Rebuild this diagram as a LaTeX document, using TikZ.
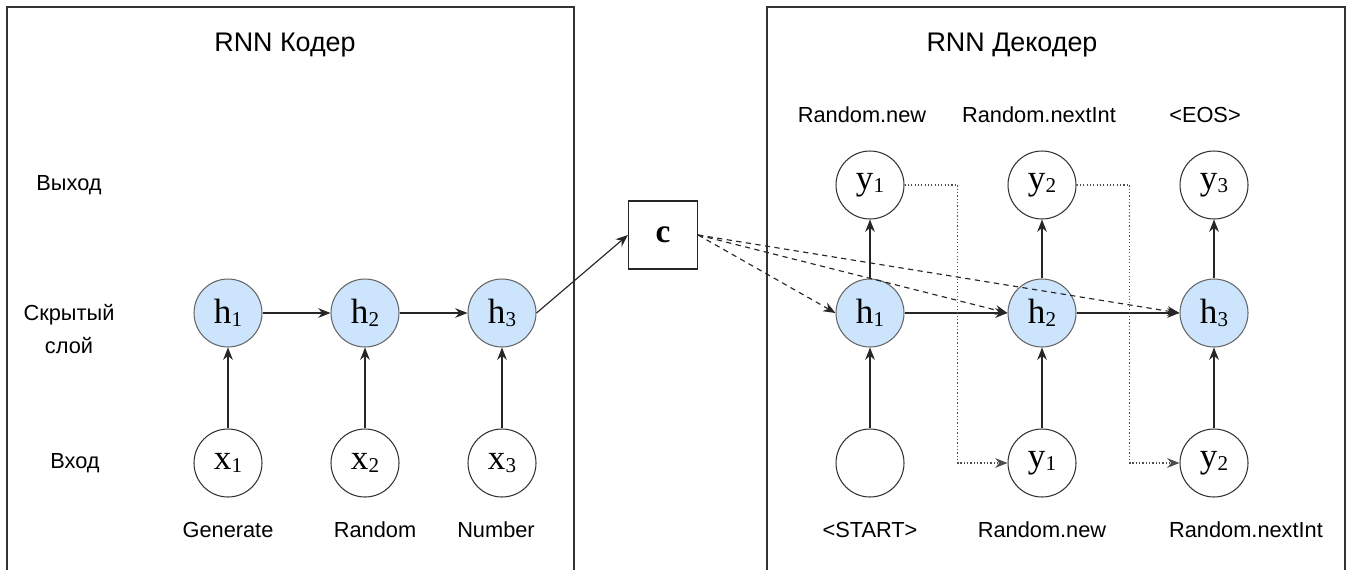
\documentclass[tikz,border=0pt]{standalone}
\usepackage{fontspec}
\setmainfont{Liberation Sans}
\newfontfamily\cellfont{Liberation Serif}
\usetikzlibrary{arrows.meta,positioning}

\definecolor{hiddenblue}{RGB}{204,228,252}
\newcommand{\lowidx}[1]{\raisebox{-2pt}{\fontsize{12}{12}\selectfont #1}}

\tikzset{
    cell/.style={circle, draw=black!80, fill=white, line width=0.6pt,
        minimum size=1.36cm, inner sep=0pt,
        font=\cellfont\fontsize{20}{20}\selectfont},
    hidden/.style={cell, draw=black!60, fill=hiddenblue},
    ctxbox/.style={rectangle, draw=black!85, line width=0.7pt,
        minimum width=1.38cm, minimum height=1.36cm, inner sep=0pt,
        font=\cellfont\fontsize{19}{19}\selectfont\bfseries},
    frame/.style={draw=black!80, line width=0.9pt},
    lbl/.style={font=\fontsize{12.4}{18.8}\selectfont, align=center},
    ttl/.style={font=\fontsize{15.3}{18}\selectfont},
    flow/.style={-{Stealth[length=7pt,width=5.5pt]}, draw=black!85, line width=0.65pt},
    ctxline/.style={flow, dash pattern=on 3pt off 2.5pt},
    feed/.style={flow, draw=black!70, dash pattern=on 0.7pt off 1.2pt}
}

\begin{document}
\begin{tikzpicture}[x=0.02cm, y=-0.02cm]
    \useasboundingbox (0,0) rectangle (1351,569);

    % frames
    \draw[frame] (7,590) |- (574,7) -- (574,590);
    \draw[frame] (767,590) |- (1345,7) -- (1345,590);
    \node[ttl] (enctitle) at (285,45) {RNN Кодер};
    \node[ttl] (dectitle) at (1012,45) {RNN Декодер};

    % row labels
    \node[lbl] (rowout) at (69,185) {Выход};
    \node[lbl, anchor=north] (rowhid) at (69,298) {Скрытый\\слой};
    \node[lbl] (rowin) at (75,463) {Вход};

    % encoder
    \foreach \i/\x/\lx/\word in {1/228/228/Generate, 2/365/375/Random, 3/502/496/Number} {
            \node[hidden] (eh\i) at (\x,313) {h\lowidx{\i}};
            \node[cell] (ex\i) at (\x,463) {x\lowidx{\i}};
            \node[lbl] (ew\i) at (\lx,530) {\word};
            \draw[flow] (ex\i) -- (eh\i);
        }
    \draw[flow] (eh1) -- (eh2);
    \draw[flow] (eh2) -- (eh3);

    % context
    \node[ctxbox] (ctx) at (663,235) {c};
    \draw[flow] (eh3.east) -- (ctx.west);

    % decoder
    \foreach \i/\x/\tx/\word in {1/870/862/Random.new, 2/1042/1039/Random.nextInt, 3/1214/1205/<EOS>} {
            \node[hidden] (dh\i) at (\x,313) {h\lowidx{\i}};
            \node[cell] (dy\i) at (\x,185) {y\lowidx{\i}};
            \node[lbl] (dt\i) at (\tx,115) {\word};
            \draw[flow] (dh\i) -- (dy\i);
        }
    \node[cell] (din1) at (870,463) {};
    \node[cell] (din2) at (1042,463) {y\lowidx{1}};
    \node[cell] (din3) at (1214,463) {y\lowidx{2}};
    \node[lbl] (db1) at (870,530) {<START>};
    \node[lbl] (db2) at (1042,530) {Random.new};
    \node[lbl] (db3) at (1246,530) {Random.nextInt};

    \foreach \i in {1,2,3} {
            \draw[flow] (din\i) -- (dh\i);
        }
    \draw[flow] (dh1) -- (dh2);
    \draw[flow] (dh2) -- (dh3);

    % context to every decoder step
    \foreach \i in {1,2,3} {
            \draw[ctxline] (ctx.east) -- (dh\i.west);
        }

    % previous output fed back
    \draw[feed] (dy1.east) -- ++(53,0) |- (din2.west);
    \draw[feed] (dy2.east) -- ++(53,0) |- (din3.west);
\end{tikzpicture}
\end{document}
